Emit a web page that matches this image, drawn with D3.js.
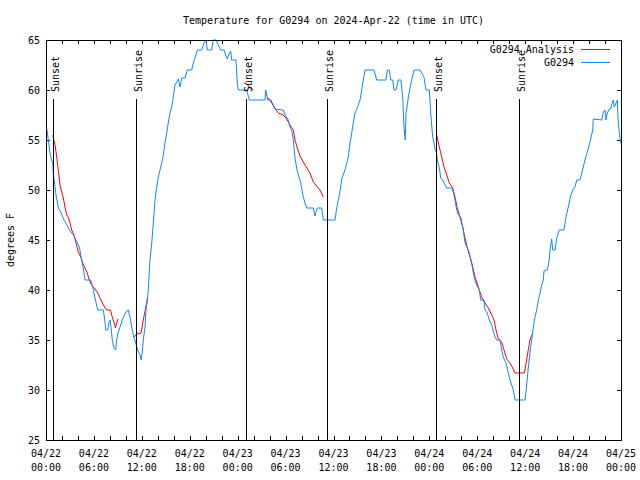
<!DOCTYPE html>
<html>
<head>
<meta charset="utf-8">
<script src="https://cdn.jsdelivr.net/npm/d3@7/dist/d3.min.js"></script>
<style>
  html, body { margin: 0; padding: 0; background: #fff; }
  svg text { font-family: "DejaVu Sans Mono", "Liberation Mono", monospace; font-size: 10px; fill: #000; }
</style>
</head>
<body>
<svg id="chart" width="640" height="480"></svg>
<script>
// ---------- DATA ----------
const titleText = "Temperature for G0294 on 2024-Apr-22 (time in UTC)";
const yLabelText = "degrees F";
const startTime = "2024-04-22T00:00:00Z";
const endTime = "2024-04-25T00:00:00Z";
const yTicks = [25, 30, 35, 40, 45, 50, 55, 60, 65];
const seriesNames = ["G0294 Analysis", "G0294"];

// observed station series: hours after start, degrees F
const obsHours = [0.1,0.29,0.5,0.71,0.84,0.91,1.13,1.25,1.42,1.54,1.84,2.09,2.25,2.5,2.79,3.22,3.42,3.63,3.92,4.17,4.47,4.67,4.88,5.6,5.85,6.01,6.14,6.47,7.18,7.39,7.48,7.73,7.89,8.01,8.14,8.3,8.51,8.73,8.85,9.05,9.27,9.55,9.89,10.11,10.31,10.52,10.73,10.93,11.23,11.48,11.77,11.9,12.06,12.18,12.4,12.52,12.73,12.81,13.02,13.24,13.44,13.65,13.86,14.06,14.28,14.49,14.69,14.9,15.11,15.31,15.53,15.74,15.94,16.15,16.37,16.57,16.78,16.99,17.41,17.69,18.24,18.44,18.66,18.95,19.5,19.78,20.04,20.2,20.75,20.95,21.29,21.58,21.88,22.29,22.54,22.7,22.95,23.13,23.25,23.79,23.95,24.08,25.13,25.46,27.42,27.51,27.76,27.96,28.26,28.68,29.71,29.93,30.34,30.55,30.77,30.97,31.18,31.39,31.59,31.81,32.02,32.22,32.43,32.65,33.47,33.68,33.81,33.97,34.52,34.72,36.19,36.4,36.73,37.07,37.44,37.85,38.07,38.28,38.48,38.69,38.98,39.32,39.53,39.73,39.95,41.07,41.41,42.57,42.74,42.99,43.16,43.41,43.58,43.83,44.12,44.45,44.67,44.83,44.99,45.08,45.24,45.37,45.58,45.79,46.08,46.83,47.33,47.58,48.0,48.17,48.42,48.59,48.71,48.92,49.0,49.25,49.43,49.67,49.96,50.18,50.8,51.0,51.21,51.43,51.63,51.93,52.18,52.34,52.47,52.76,53.01,53.31,53.51,53.72,53.93,54.26,54.43,54.85,54.97,55.26,55.51,55.81,56.01,56.22,56.44,56.85,57.06,57.26,57.6,57.89,58.1,58.31,58.52,58.73,59.98,60.19,60.39,60.61,60.82,61.02,61.23,61.45,61.65,61.86,62.07,62.27,62.36,62.77,63.02,63.11,63.32,63.45,63.74,63.95,64.28,64.86,65.11,65.4,65.62,65.95,66.24,66.45,66.87,67.21,67.49,67.78,68.12,68.46,68.53,69.59,69.79,70.0,70.12,70.29,70.54,70.71,70.84,71.04,71.16,71.38,71.54,71.66,71.79,71.97];
const obsValues = [56.1,55,53.7,53,52.7,51.7,50.3,49.5,48.8,48.2,47.8,47.3,47,46.7,46.2,45.7,45.5,45.2,44.7,44.3,43,42.2,41,41,40.3,39.7,39.2,38,38,36.8,36,36,36.8,37,36.3,35,34.2,34,35,35.8,36.3,37,37.6,37.9,38,37.3,36.3,35.5,34.7,34,33.5,33,33.8,35,36.3,38,39.3,40,43,44.7,46.7,49,50.3,51.3,52,52.7,53.5,54.7,55.7,56.7,57.7,58.3,59.3,60.5,60.8,61.1,60.3,61.2,61.2,62,62,62.7,63.2,64,64,64.7,65,64,64,65,65,64.5,64,64,63.4,63.1,63.7,63.9,63,63,60.7,60,60,59,59,60,59,59,58.7,58.1,58,57.5,57,56.3,56,55,53.2,52.2,51.5,51,50.2,49.3,48.7,48.2,48.2,47.4,47.8,48.2,48.2,47,47,48.2,49.5,51.2,52,53.3,54.7,55.7,56.7,57.7,58.2,59,60,61,62,62,61,61,62,62,61,61,60,60,61,61,59.2,56.2,55,57.7,58.5,59.3,60.2,61,62,62,61.3,60,60,57.7,55.3,54.7,54.1,53.7,53,52.2,51.2,51,50.5,50.2,50.2,49.8,49,48,47.5,47.3,46.3,45.5,44.7,44.2,43.7,42.7,41.7,41,40.5,40,39,39,38,37.7,37,36.5,35.9,35.3,35,35,34,33.3,32.7,31.7,31,30.5,30,29,29,30.5,32.2,33.8,35,36.3,37.3,38,39,39.7,40.5,41,41.9,42,43,44,45.1,44,44,45.2,46,46,47.3,48.3,49.2,50,50.3,51,51,52.1,53,53.8,54.8,56,57.1,57,57.8,58,57,57.7,58.1,58.1,58.6,59,58.3,58.7,59,56.7,55.7,54.7];

// analysis series: hours after start, degrees F (null = gap)
const anaHours = [0.84,1.13,1.34,1.54,1.75,1.97,2.17,2.38,2.59,2.79,3.01,3.22,3.51,3.76,4.04,4.35,4.6,4.88,5.17,5.42,5.72,6.14,6.55,6.76,7.18,7.6,8.08,8.33,8.54,8.7,8.85,9.02,
  10.0,
  11.06,11.36,11.9,12.06,12.18,12.4,12.61,12.73,
  18.0,
  24.79,25.17,25.55,25.96,
  26.8,
  27.71,28.14,28.46,28.8,29.09,29.71,30.14,30.55,30.97,31.18,31.47,31.81,32.22,32.65,33.06,33.47,33.9,34.31,34.72,
  40.0,
  48.92,49.25,49.55,49.84,50.18,50.5,50.93,51.21,51.5,51.84,52.18,52.47,52.76,53.09,53.43,53.72,54.13,54.56,54.97,55.39,55.81,56.1,56.35,56.64,57.06,57.35,57.69,58.01,58.31,58.73,59.89,60.19,60.39,60.61,60.82];
const anaValues = [55.5,54.5,53.3,52,50.5,49.8,49.2,48.3,47.5,47.3,46.7,46,45.5,44.7,43.8,43.3,42.7,42.2,41.7,41,40.5,40.1,39.6,39.2,38.5,38,38,37.2,36.7,36.2,36.7,37.1,
  null,
  35.3,35.6,35.7,36.4,37,37.9,38.7,39.3,
  null,
  60.7,60.6,60.2,60,
  null,
  59.2,59,58.5,58,57.7,57.5,57.1,56.5,56,55,54.2,53.4,52.8,52.2,51.7,50.8,50.4,50,49.3,
  null,
  55.5,54.3,53.3,52.3,51.5,50.7,50.2,49.3,48.2,47.3,46.3,45.2,44.2,43.3,42.3,41.3,40.3,39.3,38.7,38.2,37.5,37,36,35.1,34.8,34,33.1,32.8,32.4,31.7,31.7,33,34,35,35.5];

// sun events: hours after start
const sunLabels = ["Sunset", "Sunrise", "Sunset", "Sunrise", "Sunset", "Sunrise"];
const sunHours = [0.92, 11.31, 25.0, 35.23, 48.88, 59.27];

// ---------- CHART ----------
const colors = { analysis: "#ff0000", obs: "#0f88ff" };
const W = 640, H = 480;
const m = { left: 46, right: 19, top: 40, bottom: 40 };
const x0 = m.left, x1 = W - m.right, y0 = H - m.bottom, y1 = m.top;

const svg = d3.select("#chart");
const t0 = new Date(startTime), t1 = new Date(endTime);
const hourToDate = h => new Date(t0.getTime() + h * 3600e3);

const x = d3.scaleUtc().domain([t0, t1]).range([x0, x1]);
const y = d3.scaleLinear().domain([25, 65]).range([y0, y1]);

// title
svg.append("text").attr("x", (x0 + x1) / 2).attr("y", 20)
  .attr("text-anchor", "middle").attr("dominant-baseline", "central").text(titleText);

// y label
svg.append("text").attr("transform", `translate(10,${(y0 + y1) / 2}) rotate(-90)`)
  .attr("text-anchor", "middle").attr("dominant-baseline", "central").text(yLabelText);

const axisG = svg.append("g").attr("shape-rendering", "crispEdges");

// ticks every 2 hours, labels every 6 hours
const minorTicks = d3.utcHour.every(2).range(t0, d3.utcHour.offset(t1, 1));
const majorTicks = d3.utcHour.every(6).range(t0, d3.utcHour.offset(t1, 1));
const tickLen = 4;

const xAxisBottom = d3.axisBottom(x).tickValues(minorTicks).tickSize(-tickLen).tickFormat("");
const xAxisTop = d3.axisTop(x).tickValues(minorTicks).tickSize(-tickLen).tickFormat("");
const yAxisLeft = d3.axisLeft(y).tickValues(yTicks).tickSize(-tickLen).tickFormat("");
const yAxisRight = d3.axisRight(y).tickValues(yTicks).tickSize(-tickLen).tickFormat("");

function styleAxis(g) {
  g.select(".domain").remove();
  g.selectAll("line").attr("stroke", "#000");
}
axisG.append("g").attr("transform", `translate(0,${y0})`).call(xAxisBottom).call(styleAxis);
axisG.append("g").attr("transform", `translate(0,${y1})`).call(xAxisTop).call(styleAxis);
axisG.append("g").attr("transform", `translate(${x0},0)`).call(yAxisLeft).call(styleAxis);
axisG.append("g").attr("transform", `translate(${x1},0)`).call(yAxisRight).call(styleAxis);

// x tick labels (two lines)
const fmtDate = d3.utcFormat("%m/%d"), fmtTime = d3.utcFormat("%H:%M");
const xl = svg.append("g").selectAll("text").data(majorTicks).join("text")
  .attr("text-anchor", "middle");
xl.append("tspan").attr("x", d => x(d)).attr("y", 457).text(d => fmtDate(d));
xl.append("tspan").attr("x", d => x(d)).attr("y", 471).text(d => fmtTime(d));

// y tick labels
svg.append("g").selectAll("text").data(yTicks).join("text")
  .attr("x", 40).attr("y", d => y(d)).attr("text-anchor", "end")
  .attr("dominant-baseline", "central").text(d => d);

// data lines
const obsData = obsHours.map((h, i) => ({ t: hourToDate(h), v: obsValues[i] }));
const anaData = anaHours.map((h, i) => ({ t: hourToDate(h), v: anaValues[i] }));
const line = d3.line().defined(d => d.v != null).x(d => x(d.t)).y(d => y(d.v));

svg.append("path").datum(anaData).attr("d", line)
  .attr("fill", "none").attr("stroke", colors.analysis).attr("stroke-width", 1);
svg.append("path").datum(obsData).attr("d", line)
  .attr("fill", "none").attr("stroke", colors.obs).attr("stroke-width", 1);

// sun lines and labels
const sunData = sunHours.map((h, i) => ({ t: hourToDate(h), label: sunLabels[i] }));
const sunG = svg.append("g");
sunG.selectAll("line").data(sunData).join("line")
  .attr("shape-rendering", "crispEdges")
  .attr("x1", d => Math.round(x(d.t)) + 0.5).attr("x2", d => Math.round(x(d.t)) + 0.5)
  .attr("y1", 99).attr("y2", y0).attr("stroke", "#000");
sunG.selectAll("text").data(sunData).join("text")
  .attr("transform", d => `translate(${Math.round(x(d.t)) + 2},92) rotate(-90)`)
  .attr("text-anchor", "start").attr("dominant-baseline", "central")
  .text(d => d.label);

// frame
svg.append("rect").attr("x", x0 + 0.5).attr("y", y1 + 0.5)
  .attr("width", x1 - x0).attr("height", y0 - y1)
  .attr("fill", "none").attr("stroke", "#000").attr("shape-rendering", "crispEdges");

// legend
const legend = [
  { name: seriesNames[0], color: colors.analysis, yy: 49 },
  { name: seriesNames[1], color: colors.obs, yy: 62 }
];
const lg = svg.append("g").selectAll("g").data(legend).join("g");
lg.append("text").attr("x", 574).attr("y", d => d.yy).attr("text-anchor", "end")
  .attr("dominant-baseline", "central").text(d => d.name);
lg.append("line").attr("x1", 581).attr("x2", 610).attr("y1", d => d.yy + 0.5).attr("y2", d => d.yy + 0.5)
  .attr("stroke", d => d.color).attr("shape-rendering", "crispEdges");
</script>
</body>
</html>
